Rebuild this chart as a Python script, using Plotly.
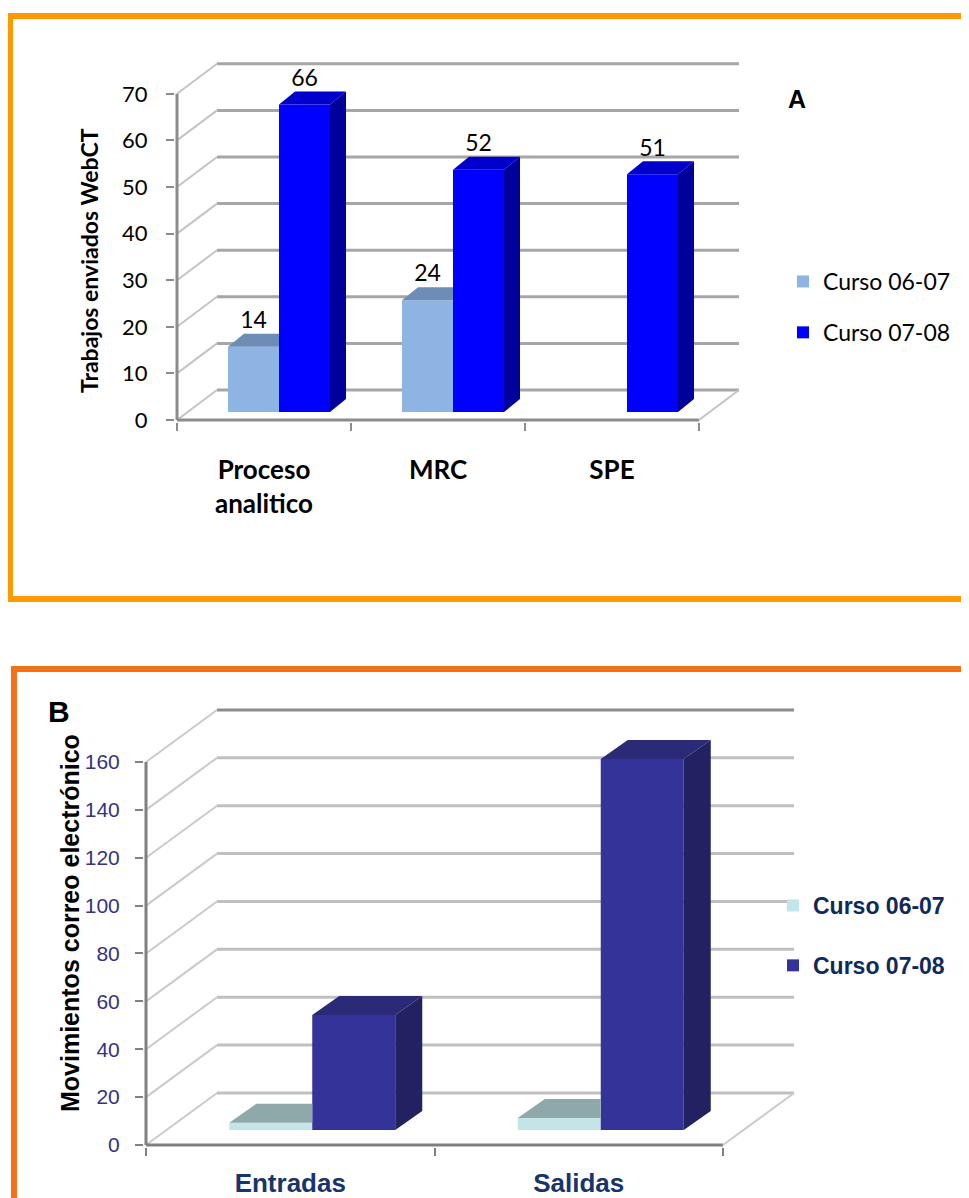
import plotly.graph_objects as go

W, H = 969, 1198
OFF = 8  # page body margin of the browser page

# ---------------- data ----------------
series_names = ["Curso 06-07", "Curso 07-08"]

cats_a = ["Proceso<br>analitico", "MRC", "SPE"]
curso0607_a = [14, 24, None]
curso0708_a = [66, 52, 51]
yticks_a = [0, 10, 20, 30, 40, 50, 60, 70]

cats_b = ["Entradas", "Salidas"]
curso0607_b = [3, 5]
curso0708_b = [48, 155]
yticks_b = [0, 20, 40, 60, 80, 100, 120, 140, 160]


def PX(x):
    return (x - OFF) / W


def PY(y):
    return 1 - (y - OFF) / H


# ---------------- styles ----------------
STY_A = dict(
    x0px=177, xs=174.0, y0px=420, ys=4.66, box=(175, 752, 56, 422),
    DX=40 / 174, DY=30 / 4.66,          # wall depth
    FX=15 / 174, FY=8 / 4.66,           # bar front offset
    BX=16 / 174, BY=13 / 4.66,          # bar depth
    BW=51 / 174,                        # bar width
    light=("#8DB4E2", "#6E8DB6", "#5F7EA6"),
    dark=("#0000FF", "#0000CC", "#00009A"),
    back="#A6A6A6", diag="#C4C4C4", front="#8C8C8C", top_back="#A6A6A6",
)
STY_B = dict(
    x0px=146, xs=288.5, y0px=1145, ys=2.394, box=(144, 800, 700, 1147),
    DX=71 / 288.5, DY=52 / 2.394,
    FX=22 / 288.5, FY=15 / 2.394,
    BX=27 / 288.5, BY=19 / 2.394,
    BW=83 / 288.5,
    light=("#C4E5E8", "#8FA9AA", "#7E9899"),
    dark=("#333399", "#2A2A76", "#222262"),
    back="#C0C0C0", diag="#CACACA", front="#808080", top_back="#8C8C8C",
)

fig = go.Figure()
shapes = []


def axes_geom(s):
    x0px, xs, y0px, ys = s["x0px"], s["xs"], s["y0px"], s["ys"]
    L, R, T, B = s["box"]
    xr = [(L - x0px) / xs, (R - x0px) / xs]
    yr = [(y0px - B) / ys, (y0px - T) / ys]
    xd = [PX(L), PX(R)]
    yd = [PY(B), PY(T)]
    return xr, yr, xd, yd


def build_panel(s, cats, light_vals, dark_vals, yticks, xref, yref, legend, label_font=None):
    n = len(cats)
    DX, DY = s["DX"], s["DY"]
    # walls (below traces)
    for i, v in enumerate(yticks):
        col = s["top_back"] if i == len(yticks) - 1 else s["back"]
        shapes.append(dict(type="line", xref=xref, yref=yref, x0=DX, y0=v + DY, x1=n + DX, y1=v + DY,
                           line=dict(color=col, width=3), layer="below"))
        shapes.append(dict(type="line", xref=xref, yref=yref, x0=0, y0=v, x1=DX, y1=v + DY,
                           line=dict(color=s["diag"], width=2), layer="below"))
    ymax = yticks[-1]
    shapes.append(dict(type="line", xref=xref, yref=yref, x0=0, y0=0, x1=0, y1=ymax,
                       line=dict(color=s["front"], width=3), layer="below"))
    shapes.append(dict(type="line", xref=xref, yref=yref, x0=0, y0=0, x1=n, y1=0,
                       line=dict(color=s["front"], width=3), layer="below"))
    shapes.append(dict(type="line", xref=xref, yref=yref, x0=n, y0=0, x1=n + DX, y1=DY,
                       line=dict(color=s["diag"], width=2), layer="below"))

    centers = [i + 0.5 for i in range(n)]
    FX, FY, BX, BY, BW = s["FX"], s["FY"], s["BX"], s["BY"], s["BW"]
    xs_front = [c + FX for c in centers]
    axis_x = "x" if xref == "x" else "x2"
    axis_y = "y" if yref == "y" else "y2"

    for k, (vals, cols, off) in enumerate([(light_vals, s["light"], -BW), (dark_vals, s["dark"], 0.0)]):
        fig.add_trace(go.Bar(
            x=xs_front, y=vals, base=FY, width=BW, offset=off,
            marker=dict(color=cols[0], line=dict(width=0)), opacity=1,
            name=series_names[k], legend=legend, legendgroup=legend + str(k),
            xaxis=axis_x, yaxis=axis_y, hoverinfo="skip",
        ))
        tx, ty, sx, sy = [], [], [], []
        for i, v in enumerate(vals):
            if v is None:
                continue
            x0 = xs_front[i] + off
            x1 = x0 + BW
            t = FY + v
            if k == 0 and dark_vals[i] is not None and dark_vals[i] >= v:
                # top face partly hidden behind the taller neighbour
                tx += [x0, x1, x1, x0 + BX, x0, None]
                ty += [t, t, t + BY, t + BY, t, None]
            else:
                tx += [x0, x1, x1 + BX, x0 + BX, x0, None]
                ty += [t, t, t + BY, t + BY, t, None]
                sx += [x1, x1, x1 + BX, x1 + BX, x1, None]
                sy += [FY, t, t + BY, FY + BY, FY, None]
        if sx:
            fig.add_trace(go.Scatter(x=sx, y=sy, mode="lines", fill="toself", fillcolor=cols[2],
                                     line=dict(width=0, color=cols[2]), showlegend=False,
                                     hoverinfo="skip", xaxis=axis_x, yaxis=axis_y))
        fig.add_trace(go.Scatter(x=tx, y=ty, mode="lines", fill="toself", fillcolor=cols[1],
                                 line=dict(width=0, color=cols[1]), showlegend=False,
                                 hoverinfo="skip", xaxis=axis_x, yaxis=axis_y))
        if label_font is not None:
            lx, ly, lt = [], [], []
            for i, v in enumerate(vals):
                if v is None:
                    continue
                lx.append(xs_front[i] + off + BW / 2)
                ly.append(FY + v + BY)
                lt.append(str(v))
            fig.add_trace(go.Scatter(x=lx, y=ly, text=lt, mode="text", textposition="top center",
                                     textfont=label_font, showlegend=False, hoverinfo="skip",
                                     cliponaxis=False, xaxis=axis_x, yaxis=axis_y))
    return centers


centers_a = build_panel(STY_A, cats_a, curso0607_a, curso0708_a, yticks_a, "x", "y", "legend",
                        label_font=dict(family="Lato", size=23, color="#000000"))
centers_b = build_panel(STY_B, cats_b, curso0607_b, curso0708_b, yticks_b, "x2", "y2", "legend2")

xr_a, yr_a, xd_a, yd_a = axes_geom(STY_A)
xr_b, yr_b, xd_b, yd_b = axes_geom(STY_B)

# panel frames
shapes.append(dict(type="rect", xref="paper", yref="paper", x0=PX(10), x1=1.05,
                   y0=PY(599), y1=PY(16), line=dict(color="#FF9900", width=6), layer="below"))
shapes.append(dict(type="rect", xref="paper", yref="paper", x0=PX(14), x1=1.05,
                   y0=-0.05, y1=PY(669), line=dict(color="#F47216", width=6), layer="below"))

fig.update_layout(
    width=W, height=H, margin=dict(l=0, r=0, t=0, b=0, autoexpand=False),
    paper_bgcolor="white", plot_bgcolor="rgba(0,0,0,0)",
    barmode="overlay", shapes=shapes,
    xaxis=dict(domain=xd_a, range=xr_a, anchor="y", showgrid=False, zeroline=False, showline=False,
               tickvals=centers_a, ticktext=cats_a, ticks="",
               tickfont=dict(family="Lato", size=26, color="#000000", weight="bold"),
               ticklabelstandoff=30, automargin=False,
               minor=dict(tickvals=list(range(len(cats_a) + 1)), ticks="outside", ticklen=8,
                          tickwidth=2, tickcolor="#8C8C8C", showgrid=False)),
    yaxis=dict(domain=yd_a, range=yr_a, anchor="x", showgrid=False, zeroline=False, showline=False,
               tickvals=yticks_a, ticks="outside", ticklen=8, tickwidth=2, tickcolor="#8C8C8C",
               tickfont=dict(family="Lato", size=22, color="#000000"), ticklabelstandoff=14,
               automargin=False),
    xaxis2=dict(domain=xd_b, range=xr_b, anchor="y2", showgrid=False, zeroline=False, showline=False,
                tickvals=centers_b, ticktext=cats_b, ticks="",
                tickfont=dict(family="Liberation Sans, Arial", size=26, color="#17356B", weight="bold"),
                ticklabelstandoff=18, automargin=False,
                minor=dict(tickvals=list(range(len(cats_b) + 1)), ticks="outside", ticklen=8,
                           tickwidth=2, tickcolor="#808080", showgrid=False)),
    yaxis2=dict(domain=yd_b, range=yr_b, anchor="x2", showgrid=False, zeroline=False, showline=False,
                tickvals=yticks_b, ticks="outside", ticklen=8, tickwidth=2, tickcolor="#808080",
                tickfont=dict(family="Liberation Sans, Arial", size=21, color="#333383"),
                ticklabelstandoff=11, automargin=False),
    legend=dict(x=PX(783), y=PY(260), xanchor="left", yanchor="top", bgcolor="rgba(0,0,0,0)",
                font=dict(family="Lato", size=23, color="#000000"), traceorder="grouped",
                tracegroupgap=18),
    legend2=dict(x=PX(773), y=PY(884), xanchor="left", yanchor="top", bgcolor="rgba(0,0,0,0)",
                 font=dict(family="Liberation Sans, Arial", size=23, color="#10295C", weight="bold"),
                 traceorder="grouped", tracegroupgap=27),
    annotations=[
        dict(text="A", x=PX(797), y=PY(99), xref="paper", yref="paper", showarrow=False,
             xanchor="center", yanchor="middle",
             font=dict(family="Liberation Sans, Arial", size=25, color="#000000", weight="bold")),
        dict(text="B", x=PX(59), y=PY(711), xref="paper", yref="paper", showarrow=False,
             xanchor="center", yanchor="middle",
             font=dict(family="Liberation Sans, Arial", size=30, color="#000000", weight="bold")),
        dict(text="Trabajos enviados WebCT", x=PX(89), y=PY(261), xref="paper", yref="paper",
             showarrow=False, textangle=-90, xanchor="center", yanchor="middle",
             font=dict(family="Lato", size=23, color="#000000", weight="bold")),
        dict(text="Movimientos correo electrónico", x=PX(70), y=PY(923), xref="paper", yref="paper",
             showarrow=False, textangle=-90, xanchor="center", yanchor="middle",
             font=dict(family="Liberation Sans, Arial", size=25, color="#000000", weight="bold")),
    ],
)

fig.write_html("out.html")
